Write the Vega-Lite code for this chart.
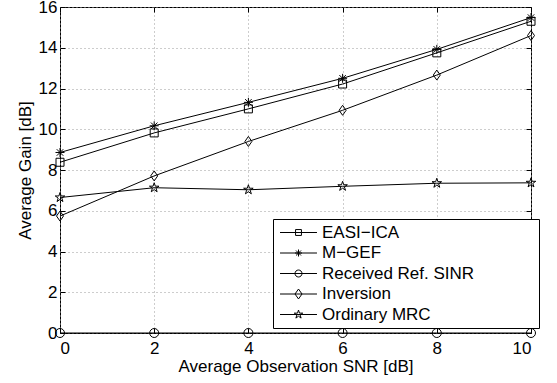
{
  "$schema": "https://vega.github.io/schema/vega-lite/v6.json",
  "width": 471,
  "height": 326,
  "autosize": {"type": "none"},
  "padding": {"left": 60, "top": 7, "right": 26, "bottom": 50},
  "config": {
    "font": "Liberation Sans",
    "view": {"stroke": "black", "strokeWidth": 1},
    "axis": {
      "labelFont": "Liberation Sans",
      "labelFontSize": 17,
      "labelColor": "black",
      "titleFont": "Liberation Sans",
      "titleFontSize": 17,
      "titleFontWeight": "normal",
      "titleColor": "black",
      "domainColor": "black",
      "tickColor": "black",
      "gridColor": "#9a9a9a",
      "gridDash": [1, 3],
      "gridOpacity": 1,
      "gridWidth": 1
    },
    "legend": {
      "labelFont": "Liberation Sans",
      "labelFontSize": 17,
      "labelColor": "black"
    }
  },
  "data": {
    "values": [
      {"snr": 0, "gain": 8.38, "series": "EASI−ICA"},
      {"snr": 2, "gain": 9.82, "series": "EASI−ICA"},
      {"snr": 4, "gain": 11.0, "series": "EASI−ICA"},
      {"snr": 6, "gain": 12.22, "series": "EASI−ICA"},
      {"snr": 8, "gain": 13.75, "series": "EASI−ICA"},
      {"snr": 10, "gain": 15.3, "series": "EASI−ICA"},
      {"snr": 0, "gain": 8.86, "series": "M−GEF"},
      {"snr": 2, "gain": 10.17, "series": "M−GEF"},
      {"snr": 4, "gain": 11.32, "series": "M−GEF"},
      {"snr": 6, "gain": 12.5, "series": "M−GEF"},
      {"snr": 8, "gain": 13.92, "series": "M−GEF"},
      {"snr": 10, "gain": 15.48, "series": "M−GEF"},
      {"snr": 0, "gain": 0, "series": "Received Ref. SINR"},
      {"snr": 2, "gain": 0, "series": "Received Ref. SINR"},
      {"snr": 4, "gain": 0, "series": "Received Ref. SINR"},
      {"snr": 6, "gain": 0, "series": "Received Ref. SINR"},
      {"snr": 8, "gain": 0, "series": "Received Ref. SINR"},
      {"snr": 10, "gain": 0, "series": "Received Ref. SINR"},
      {"snr": 0, "gain": 5.74, "series": "Inversion"},
      {"snr": 2, "gain": 7.71, "series": "Inversion"},
      {"snr": 4, "gain": 9.4, "series": "Inversion"},
      {"snr": 6, "gain": 10.93, "series": "Inversion"},
      {"snr": 8, "gain": 12.66, "series": "Inversion"},
      {"snr": 10, "gain": 14.6, "series": "Inversion"},
      {"snr": 0, "gain": 6.65, "series": "Ordinary MRC"},
      {"snr": 2, "gain": 7.13, "series": "Ordinary MRC"},
      {"snr": 4, "gain": 7.03, "series": "Ordinary MRC"},
      {"snr": 6, "gain": 7.2, "series": "Ordinary MRC"},
      {"snr": 8, "gain": 7.35, "series": "Ordinary MRC"},
      {"snr": 10, "gain": 7.37, "series": "Ordinary MRC"}
    ]
  },
  "resolve": {
    "scale": {"x": "shared", "y": "shared", "shape": "independent"},
    "axis": {"x": "independent", "y": "independent"},
    "legend": {"shape": "independent"}
  },
  "layer": [
    {
      "mark": {"type": "line", "color": "black", "strokeWidth": 1},
      "encoding": {
        "x": {
          "field": "snr", "type": "quantitative",
          "scale": {"domain": [0, 10], "nice": false, "zero": false},
          "axis": {"values": [0, 2, 4, 6, 8, 10], "title": "Average Observation SNR [dB]", "grid": true, "domain": false, "tickSize": -5, "labelPadding": 12, "titlePadding": 2}
        },
        "y": {
          "field": "gain", "type": "quantitative",
          "scale": {"domain": [0, 16], "nice": false},
          "axis": {"values": [0, 2, 4, 6, 8, 10, 12, 14, 16], "title": "Average Gain [dB]", "grid": true, "domain": false, "tickSize": -5, "labelPadding": 8, "titlePadding": 4}
        },
        "detail": {"field": "series"}
      }
    },
    {
      "mark": {"type": "point", "filled": false, "color": "black", "strokeWidth": 1, "opacity": 1, "size": 100},
      "encoding": {
        "x": {
          "field": "snr", "type": "quantitative",
          "axis": {"orient": "top", "values": [0, 2, 4, 6, 8, 10], "labels": false, "title": null, "grid": false, "domain": false, "tickSize": -5}
        },
        "y": {
          "field": "gain", "type": "quantitative",
          "axis": {"orient": "right", "values": [0, 2, 4, 6, 8, 10, 12, 14, 16], "labels": false, "title": null, "grid": false, "domain": false, "tickSize": -5}
        },
        "shape": {
          "field": "series", "type": "nominal",
          "scale": {
            "domain": ["EASI−ICA", "M−GEF", "Received Ref. SINR", "Inversion", "Ordinary MRC"],
            "range": [
              "M-0.8,-0.8H0.8V0.8H-0.8Z",
              "M-0.9,0H0.9M0,-0.9V0.9M-0.65,-0.65L0.65,0.65M-0.65,0.65L0.65,-0.65",
              "M-0.9,0A0.9,0.9,0,1,0,0.9,0A0.9,0.9,0,1,0,-0.9,0Z",
              "M0,-1L0.7,0L0,1L-0.7,0Z",
              "M0,-1L0.225,-0.309L0.951,-0.309L0.363,0.118L0.588,0.809L0,0.382L-0.588,0.809L-0.363,0.118L-0.951,-0.309L-0.225,-0.309Z"
            ]
          },
          "legend": null
        }
      }
    },
    {
      "mark": {"type": "point", "filled": false, "color": "black", "strokeWidth": 1, "opacity": 0, "size": 100},
      "encoding": {
        "x": {"field": "snr", "type": "quantitative", "axis": null},
        "y": {"field": "gain", "type": "quantitative", "axis": null},
        "shape": {
          "field": "series", "type": "nominal",
          "scale": {
            "domain": ["EASI−ICA", "M−GEF", "Received Ref. SINR", "Inversion", "Ordinary MRC"],
            "range": [
              "M-2.64,0H2.64M-0.42,-0.42H0.42V0.42H-0.42Z",
              "M-2.64,0H2.64M-0.5,0H0.5M0,-0.5V0.5M-0.357,-0.357L0.357,0.357M-0.357,0.357L0.357,-0.357",
              "M-2.64,0H2.64M-0.5,0A0.5,0.5,0,1,0,0.5,0A0.5,0.5,0,1,0,-0.5,0Z",
              "M-2.64,0H2.64M0,-0.71L0.5,0L0,0.71L-0.5,0Z",
              "M-2.64,0H2.64M0,-0.634L0.143,-0.196L0.603,-0.196L0.230,0.075L0.373,0.513L0,0.242L-0.373,0.513L-0.230,0.075L-0.603,-0.196L-0.143,-0.196Z"
            ]
          },
          "legend": {
            "title": "\u2800\u2800\u2800\u2800\u2800",
            "titleOrient": "right",
            "titleFontSize": 17,
            "titleOpacity": 0,
            "titlePadding": 0,
            "orient": "none",
            "legendX": 213,
            "legendY": 212,
            "padding": 5,
            "strokeColor": "black",
            "fillColor": "white",
            "symbolSize": 196,
            "symbolOffset": 12,
            "symbolStrokeColor": "black",
            "symbolStrokeWidth": 1,
            "symbolFillColor": "transparent",
            "symbolOpacity": 1,
            "labelOffset": 15,
            "labelLimit": 400,
            "rowPadding": 2.5
          }
        }
      }
    }
  ]
}
